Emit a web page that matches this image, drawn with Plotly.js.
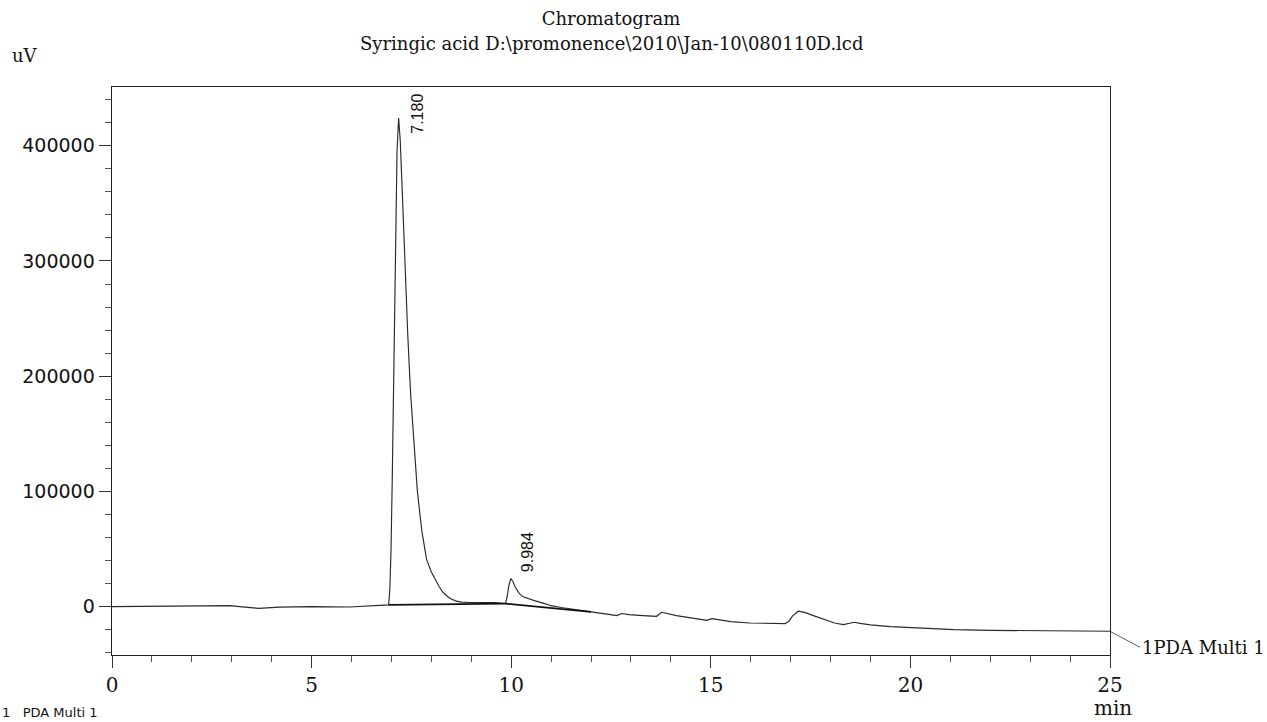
<!DOCTYPE html>
<html>
<head>
<meta charset="utf-8">
<script src="https://cdn.plot.ly/plotly-3.0.1.min.js"></script>
<style>html,body{margin:0;padding:0;background:#fff;}#chart{width:1267px;height:722px;}</style>
</head>
<body>
<div id="chart"></div>
<script>
// Retention time (min) and detector signal (uV)
const time = [0, 0.5, 1, 1.5, 2, 2.5, 2.95, 3.2, 3.67, 4.2, 5.0, 5.96, 6.5, 6.88,
  6.93, 6.96, 6.99, 7.02, 7.05, 7.08, 7.11, 7.14, 7.18, 7.22, 7.26, 7.30, 7.35, 7.41, 7.48, 7.56, 7.65, 7.76, 7.88,
  8.0, 8.09, 8.2, 8.3, 8.45, 8.6, 8.75, 9.0, 9.3, 9.6, 9.8,
  9.86, 9.9, 9.94, 9.99, 10.04, 10.1, 10.2, 10.3, 10.45, 10.6, 10.8, 11.0, 11.25, 11.5,
  12.0, 12.4, 12.64, 12.77, 12.95, 13.3, 13.64, 13.77, 13.95, 14.14, 14.5, 14.9, 15.03, 15.2, 15.5, 15.98,
  16.5, 16.86, 16.95, 17.05, 17.19, 17.35, 17.57, 17.9, 18.1, 18.32, 18.45, 18.6, 18.74,
  19.0, 19.5, 20.1, 21.1, 22, 23, 24, 25];
const signal = [0, 100, 200, 300, 200, 400, 800, 0, -1500, -500, 0, -300, 800, 1500,
  1500, 15000, 50000, 110000, 190000, 270000, 340000, 395000, 424000, 405000, 370000, 330000, 285000, 235000, 185000, 140000, 100000, 66000, 41000,
  30000, 23500, 17000, 12000, 7500, 5000, 3900, 3600, 3700, 3400, 2900,
  2600, 9000, 18000, 24300, 22000, 17000, 11500, 8500, 6500, 5000, 3000, 800, -800, -2200,
  -4600, -6500, -7800, -6000, -7000, -7800, -8400, -4900, -6300, -7800, -9800, -11900, -10400, -11500, -13000, -14200,
  -14500, -14800, -13000, -8000, -4000, -5000, -7800, -12200, -14200, -15600, -14600, -13600, -14500,
  -15800, -17400, -18600, -20000, -20600, -21000, -21200, -21400];

// Integration baselines (start/end of each peak)
const baseTime1 = [6.93, 9.86];
const baseSignal1 = [1500, 2600];
const baseTime2 = [9.86, 12.0];
const baseSignal2 = [2600, -4600];

// Peak labels
const peakTimes = [7.18, 9.984];
const peakHeights = [424000, 24300];
const peakLabels = ['7.180', '9.984'];

// Axis ticks
const xTicks = [0, 5, 10, 15, 20, 25];
const yTicks = [0, 100000, 200000, 300000, 400000];
const yTickLabels = ['0', '100000', '200000', '300000', '400000'];

const channelName = '1PDA Multi 1';

const traces = [
  {x: time, y: signal, type: 'scatter', mode: 'lines',
   line: {color: '#2a2a2a', width: 1.15}, hoverinfo: 'skip'},
  {x: baseTime1, y: baseSignal1, type: 'scatter', mode: 'lines',
   line: {color: '#111', width: 1.8}, hoverinfo: 'skip'},
  {x: baseTime2, y: baseSignal2, type: 'scatter', mode: 'lines',
   line: {color: '#111', width: 1.8}, hoverinfo: 'skip'}
];

const labelShift = [{x: 18, y: 4}, {x: 17, y: 26}];
const annotations = peakTimes.map((t, i) => ({
  x: t, y: peakHeights[i], xref: 'x', yref: 'y', text: peakLabels[i],
  showarrow: false, textangle: -90, xanchor: 'center', yanchor: 'middle',
  xshift: labelShift[i].x, yshift: labelShift[i].y,
  font: {family: 'Liberation Sans, Arial, sans-serif', size: 16, color: '#111'}
}));

annotations.push({
  x: time[time.length - 1], y: signal[signal.length - 1], xref: 'x', yref: 'y',
  text: channelName, showarrow: true, arrowhead: 0, arrowwidth: 0.8, arrowcolor: '#333',
  ax: 30, ay: 16, xanchor: 'left', yanchor: 'middle', standoff: 0,
  font: {family: 'DejaVu Serif, serif', size: 18, color: '#111'}
});
annotations.push({
  xref: 'paper', yref: 'paper', x: 1.003, y: -0.093, text: 'min', showarrow: false,
  xanchor: 'center', yanchor: 'middle',
  font: {family: 'DejaVu Serif, serif', size: 20, color: '#111'}
});
annotations.push({
  xref: 'paper', yref: 'paper', x: -0.102, y: 1.056, text: 'uV', showarrow: false,
  xanchor: 'left', yanchor: 'middle',
  font: {family: 'DejaVu Serif, serif', size: 18, color: '#111'}
});
annotations.push({
  xref: 'paper', yref: 'paper', x: 0.5, y: 1.077, text: 'Syringic acid D:\\promonence\\2010\\Jan-10\\080110D.lcd',
  showarrow: false, xanchor: 'center', yanchor: 'middle',
  font: {family: 'DejaVu Serif, serif', size: 18, color: '#111'}
});
annotations.push({
  xref: 'paper', yref: 'paper', x: -0.112, y: -0.118, text: '1   PDA Multi 1', showarrow: false,
  xanchor: 'left', yanchor: 'bottom',
  font: {family: 'DejaVu Sans, sans-serif', size: 13, color: '#111'}
});

const layout = {
  width: 1267, height: 722,
  margin: {l: 112, r: 157, t: 87, b: 67, pad: 0},
  paper_bgcolor: '#fff', plot_bgcolor: '#fff',
  showlegend: false,
  title: {text: 'Chromatogram', x: 0.5, xref: 'paper', y: 1 - 19 / 722, yref: 'container',
          xanchor: 'center', yanchor: 'middle',
          font: {family: 'DejaVu Serif, serif', size: 18, color: '#111'}},
  xaxis: {range: [0, 25], tickvals: xTicks, ticktext: xTicks.map(String),
          ticks: 'outside', ticklen: 12, tickwidth: 1, tickcolor: '#333',
          minor: {dtick: 1, ticks: 'outside', ticklen: 6, tickwidth: 1, tickcolor: '#555'},
          showline: true, linecolor: '#222', linewidth: 1.4, mirror: true,
          showgrid: false, zeroline: false,
          tickfont: {family: 'DejaVu Serif, serif', size: 20, color: '#111'}},
  yaxis: {range: [-42000, 451000], tickvals: yTicks, ticktext: yTickLabels,
          ticks: 'outside', ticklen: 12, tickwidth: 1, tickcolor: '#333',
          minor: {dtick: 20000, tick0: 0, ticks: 'outside', ticklen: 6, tickwidth: 1, tickcolor: '#555'},
          showline: true, linecolor: '#222', linewidth: 1.4, mirror: true,
          showgrid: false, zeroline: false, ticklabelstandoff: 0,
          tickfont: {family: 'DejaVu Sans, sans-serif', size: 19, color: '#111'}},
  annotations: annotations
};

Plotly.newPlot('chart', traces, layout, {displayModeBar: false, staticPlot: true});
</script>
</body>
</html>
